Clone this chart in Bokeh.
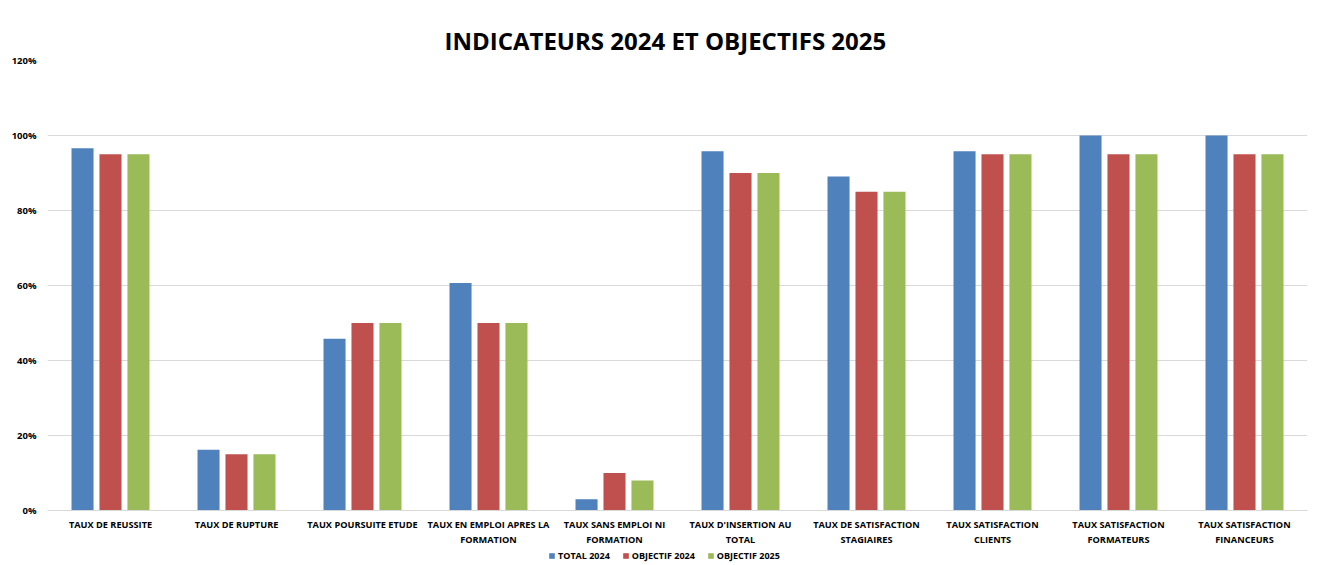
from bokeh.plotting import figure
from bokeh.layouts import column
from bokeh.models import FactorRange, NumeralTickFormatter, Legend, LegendItem, FixedTicker, ColumnDataSource, Range1d
from bokeh.transform import dodge
from bokeh.embed import file_html
from bokeh.resources import INLINE

categories = [
    "TAUX DE REUSSITE",
    "TAUX DE RUPTURE",
    "TAUX POURSUITE ETUDE",
    "TAUX EN EMPLOI APRES LA\nFORMATION",
    "TAUX SANS EMPLOI NI\nFORMATION",
    "TAUX D'INSERTION AU\nTOTAL",
    "TAUX DE SATISFACTION\nSTAGIAIRES",
    "TAUX SATISFACTION\nCLIENTS",
    "TAUX SATISFACTION\nFORMATEURS",
    "TAUX SATISFACTION\nFINANCEURS",
]
total_2024 = [0.966, 0.162, 0.458, 0.607, 0.03, 0.958, 0.891, 0.958, 1.0, 1.0]
objectif_2024 = [0.95, 0.15, 0.50, 0.50, 0.10, 0.90, 0.85, 0.95, 0.95, 0.95]
objectif_2025 = [0.95, 0.15, 0.50, 0.50, 0.08, 0.90, 0.85, 0.95, 0.95, 0.95]
series_names = ["TOTAL 2024", "OBJECTIF 2024", "OBJECTIF 2025"]
colors = ["#4F81BD", "#C0504D", "#9BBB59"]
y_ticks = [0, 0.2, 0.4, 0.6, 0.8, 1.0, 1.2]

FONT = "Open Sans"

source = ColumnDataSource(dict(cat=categories, t24=total_2024, o24=objectif_2024, o25=objectif_2025))

p = figure(
    x_range=FactorRange(*categories, range_padding=0),
    y_range=Range1d(0, 1.2),
    width=1314, height=549,
    output_backend="svg", toolbar_location=None,
    min_border_left=47, min_border_right=7, min_border_top=60, min_border_bottom=38,
)
p.title.text = "INDICATEURS 2024 ET OBJECTIFS 2025"
p.title.align = "left"
p.title.offset = 397
p.title.text_font = FONT
p.title.text_font_size = "24px"
p.title.text_font_style = "bold"
p.title.text_color = "#000000"
p.title.standoff = 7

for key, off, col in zip(["t24", "o24", "o25"], [-0.222, 0.0, 0.222], colors):
    p.vbar(x=dodge("cat", off, range=p.x_range), top=key, width=0.175, source=source,
           fill_color=col, line_color=None)

p.outline_line_color = None
p.xgrid.grid_line_color = None
p.ygrid.grid_line_color = "#d9d9d9"
p.ygrid.grid_line_width = 1

p.yaxis.ticker = FixedTicker(ticks=y_ticks)
p.yaxis.formatter = NumeralTickFormatter(format="0%")
p.yaxis.axis_line_color = None
p.yaxis.major_tick_line_color = None
p.yaxis.minor_tick_line_color = None
p.yaxis.major_tick_out = 0
p.yaxis.major_label_standoff = 11
p.yaxis.major_label_text_font = FONT
p.yaxis.major_label_text_font_size = "9.5px"
p.yaxis.major_label_text_font_style = "bold"
p.yaxis.major_label_text_color = "#000000"

p.xaxis.axis_line_color = "#d9d9d9"
p.xaxis.major_tick_line_color = None
p.xaxis.minor_tick_line_color = None
p.xaxis.major_tick_out = 0
p.xaxis.major_label_standoff = 7
p.xaxis.major_label_text_font = FONT
p.xaxis.major_label_text_font_size = "9.2px"
p.xaxis.major_label_text_font_style = "bold"
p.xaxis.major_label_text_color = "#000000"

# Legend strip as a separate small figure below the chart
p2 = figure(width=1314, height=14, output_backend="svg", toolbar_location=None,
            x_range=Range1d(0, 1), y_range=Range1d(0, 1),
            min_border_left=0, min_border_right=0, min_border_top=0, min_border_bottom=0)
p2.axis.visible = False
p2.grid.visible = False
p2.outline_line_color = None
legend_renderers = [
    p2.vbar(x=key, top=key, width=0.01, source=source, fill_color=c, line_color=None, visible=False)
    for key, c in zip(["t24", "o24", "o25"], colors)
]
legend = Legend(
    items=[LegendItem(label=n, renderers=[r]) for n, r in zip(series_names, legend_renderers)],
    orientation="horizontal", location=(501, 1),
    label_text_font=FONT, label_text_font_size="9px", label_text_font_style="bold",
    label_text_color="#000000", glyph_width=7, glyph_height=7, spacing=12,
    padding=0, margin=0, border_line_color=None, background_fill_alpha=0,
    inactive_fill_alpha=0, label_standoff=3, label_height=10,
)
p2.add_layout(legend, "center")

open("out.html", "w").write(file_html(column(p, p2, spacing=0), INLINE))
